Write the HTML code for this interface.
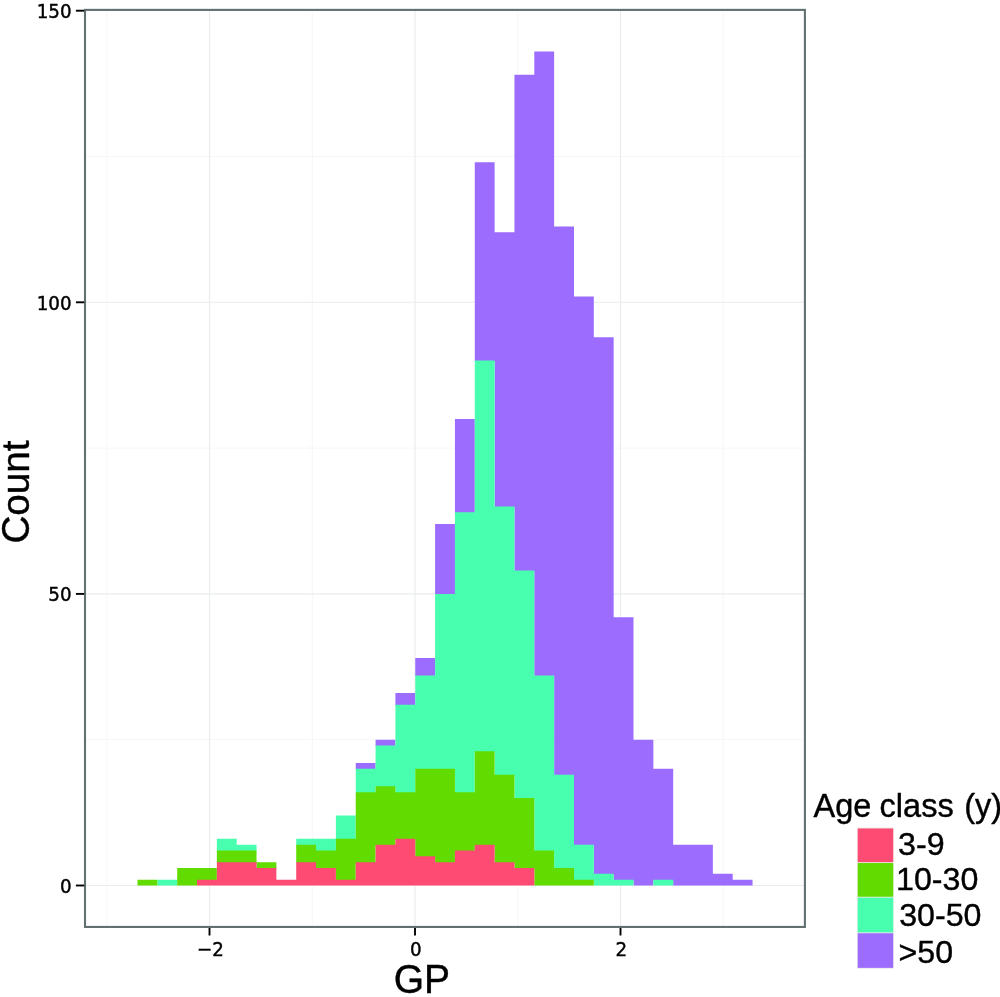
<!DOCTYPE html>
<html lang="en"><head><meta charset="utf-8"><title>GP histogram by age class</title>
<style>html,body{margin:0;padding:0;background:#fff}body{width:1000px;height:997px;overflow:hidden}svg{display:block}.tk{font-family:"DejaVu Sans","Liberation Sans",sans-serif;font-size:20px;fill:#000;stroke:#000;stroke-width:0.45px}.ax{font-family:"Liberation Sans",Arial,sans-serif;fill:#000;stroke:#000;stroke-width:0.4px}</style></head><body>
<svg width="1000" height="997" viewBox="0 0 1000 997">
<rect x="0" y="0" width="1000" height="997" fill="#ffffff"/>
<g stroke="#f5f7f7" stroke-width="1" fill="none">
<line x1="106.75" y1="9.9" x2="106.75" y2="926.95"/>
<line x1="312.25" y1="9.9" x2="312.25" y2="926.95"/>
<line x1="517.75" y1="9.9" x2="517.75" y2="926.95"/>
<line x1="723.25" y1="9.9" x2="723.25" y2="926.95"/>
<line x1="85.0" y1="739.70" x2="804.9" y2="739.70"/>
<line x1="85.0" y1="448.10" x2="804.9" y2="448.10"/>
<line x1="85.0" y1="156.50" x2="804.9" y2="156.50"/>
</g>
<g stroke="#e9ecec" stroke-width="1.1" fill="none">
<line x1="209.50" y1="9.9" x2="209.50" y2="926.95"/>
<line x1="415.00" y1="9.9" x2="415.00" y2="926.95"/>
<line x1="620.50" y1="9.9" x2="620.50" y2="926.95"/>
<line x1="85.0" y1="885.50" x2="804.9" y2="885.50"/>
<line x1="85.0" y1="593.90" x2="804.9" y2="593.90"/>
<line x1="85.0" y1="302.30" x2="804.9" y2="302.30"/>
</g>
<path fill="#9b6cfe" d="M355.74 763.03H375.58V769.86H355.74ZM375.58 739.70H395.42V746.53H375.58ZM395.42 693.04H415.26V705.71H395.42ZM415.26 658.05H435.10V676.55H415.26ZM435.10 523.92H454.94V594.90H435.10ZM454.94 418.94H474.78V513.25H454.94ZM474.78 162.33H494.62V361.62H474.78ZM494.62 232.32H514.46V507.42H494.62ZM514.46 74.85H534.30V571.57H514.46ZM534.30 51.52H554.14V676.55H534.30ZM554.14 226.48H573.98V775.69H554.14ZM573.98 296.47H593.82V845.68H573.98ZM593.82 337.29H613.66V874.84H593.82ZM613.66 617.23H633.50V880.67H613.66ZM633.50 739.70H653.34V885.50H633.50ZM653.34 768.86H673.18V880.67H653.34ZM673.18 844.68H693.02V885.50H673.18ZM693.02 844.68H712.86V885.50H693.02ZM712.86 873.84H732.70V885.50H712.86ZM732.70 879.67H752.54V885.50H732.70Z"/>
<path fill="#48ffb0" d="M157.34 879.67H177.18V885.50H157.34ZM216.86 838.84H236.70V851.51H216.86ZM236.70 844.68H256.54V851.51H236.70ZM296.22 838.84H316.06V845.68H296.22ZM316.06 838.84H335.90V851.51H316.06ZM335.90 815.52H355.74V839.84H335.90ZM355.74 768.86H375.58V793.19H355.74ZM375.58 745.53H395.42V787.36H375.58ZM395.42 704.71H415.26V793.19H395.42ZM415.26 675.55H435.10V769.86H415.26ZM435.10 593.90H454.94V769.86H435.10ZM454.94 512.25H474.78V793.19H454.94ZM474.78 360.62H494.62V752.36H474.78ZM494.62 506.42H514.46V775.69H494.62ZM514.46 570.57H534.30V799.02H514.46ZM534.30 675.55H554.14V851.51H534.30ZM554.14 774.69H573.98V869.00H554.14ZM573.98 844.68H593.82V880.67H573.98ZM593.82 873.84H613.66V885.50H593.82ZM613.66 879.67H633.50V885.50H613.66ZM653.34 879.67H673.18V885.50H653.34Z"/>
<path fill="#62dc00" d="M137.50 879.67H157.34V885.50H137.50ZM177.18 868.00H197.02V885.50H177.18ZM197.02 868.00H216.86V880.67H197.02ZM216.86 850.51H236.70V863.17H216.86ZM236.70 850.51H256.54V863.17H236.70ZM256.54 862.17H276.38V869.00H256.54ZM296.22 844.68H316.06V863.17H296.22ZM316.06 850.51H335.90V869.00H316.06ZM335.90 838.84H355.74V880.67H335.90ZM355.74 792.19H375.58V863.17H355.74ZM375.58 786.36H395.42V845.68H375.58ZM395.42 792.19H415.26V839.84H395.42ZM415.26 768.86H435.10V857.34H415.26ZM435.10 768.86H454.94V863.17H435.10ZM454.94 792.19H474.78V851.51H454.94ZM474.78 751.36H494.62V845.68H474.78ZM494.62 774.69H514.46V863.17H494.62ZM514.46 798.02H534.30V869.00H514.46ZM534.30 850.51H554.14V885.50H534.30ZM554.14 868.00H573.98V885.50H554.14ZM573.98 879.67H593.82V885.50H573.98Z"/>
<path fill="#fe4b73" d="M197.02 879.67H216.86V885.50H197.02ZM216.86 862.17H236.70V885.50H216.86ZM236.70 862.17H256.54V885.50H236.70ZM256.54 868.00H276.38V885.50H256.54ZM276.38 879.67H296.22V885.50H276.38ZM296.22 862.17H316.06V885.50H296.22ZM316.06 868.00H335.90V885.50H316.06ZM335.90 879.67H355.74V885.50H335.90ZM355.74 862.17H375.58V885.50H355.74ZM375.58 844.68H395.42V885.50H375.58ZM395.42 838.84H415.26V885.50H395.42ZM415.26 856.34H435.10V885.50H415.26ZM435.10 862.17H454.94V885.50H435.10ZM454.94 850.51H474.78V885.50H454.94ZM474.78 844.68H494.62V885.50H474.78ZM494.62 862.17H514.46V885.50H494.62ZM514.46 868.00H534.30V885.50H514.46Z"/>
<rect x="85.0" y="9.9" width="719.9" height="917.0500000000001" fill="none" stroke="#627071" stroke-width="2.1"/>
<g stroke="#000" stroke-width="1.9" fill="none">
<line x1="75.9" y1="885.50" x2="84.2" y2="885.50"/>
<line x1="75.9" y1="593.90" x2="84.2" y2="593.90"/>
<line x1="75.9" y1="302.30" x2="84.2" y2="302.30"/>
<line x1="75.9" y1="10.70" x2="84.2" y2="10.70"/>
<line x1="209.50" y1="928" x2="209.50" y2="935.5"/>
<line x1="415.00" y1="928" x2="415.00" y2="935.5"/>
<line x1="620.50" y1="928" x2="620.50" y2="935.5"/>
</g>
<text class="tk" transform="translate(71.6,893.05) scale(0.915,1.0)" text-anchor="end">0</text>
<text class="tk" transform="translate(71.6,601.45) scale(0.915,1.0)" text-anchor="end">50</text>
<text class="tk" transform="translate(71.6,309.85) scale(0.915,1.0)" text-anchor="end">100</text>
<text class="tk" transform="translate(71.6,18.25) scale(0.915,1.0)" text-anchor="end">150</text>
<text class="tk" transform="translate(210.40,956.3) scale(0.915,1.0)" text-anchor="middle">−2</text>
<text class="tk" transform="translate(415.90,956.3) scale(0.915,1.0)" text-anchor="middle">0</text>
<text class="tk" transform="translate(621.40,956.3) scale(0.915,1.0)" text-anchor="middle">2</text>
<text class="ax" transform="translate(421.9,992.9) scale(0.985,1.03)" text-anchor="middle" font-size="39.6">GP</text>
<text class="ax" transform="translate(28.8,492.0) rotate(-90) scale(0.992,1.005)" text-anchor="middle" font-size="39">Count</text>
<text class="ax" y="816.7" font-size="32.5"><tspan x="813.6">Age</tspan> <tspan x="879.6">class</tspan> <tspan x="964.2">(y)</tspan></text>
<rect x="857.2" y="827.5" width="36.5" height="141.30" fill="#ebebe6"/>
<rect x="857.7" y="828.45" width="35.5" height="33.70" fill="#fe4b73"/>
<text class="ax" x="898.1" y="855.3" font-size="32.2">3-9</text>
<rect x="857.7" y="863.05" width="35.5" height="33.70" fill="#62dc00"/>
<text class="ax" x="896.0" y="890.45" font-size="32.2">10-30</text>
<rect x="857.7" y="897.65" width="35.5" height="34.70" fill="#48ffb0"/>
<text class="ax" x="899.2" y="926.2" font-size="32.2">30-50</text>
<rect x="857.7" y="933.25" width="35.5" height="34.60" fill="#9b6cfe"/>
<text class="ax" x="898.5" y="962.5" font-size="32.2">&gt;50</text>
</svg></body></html>
